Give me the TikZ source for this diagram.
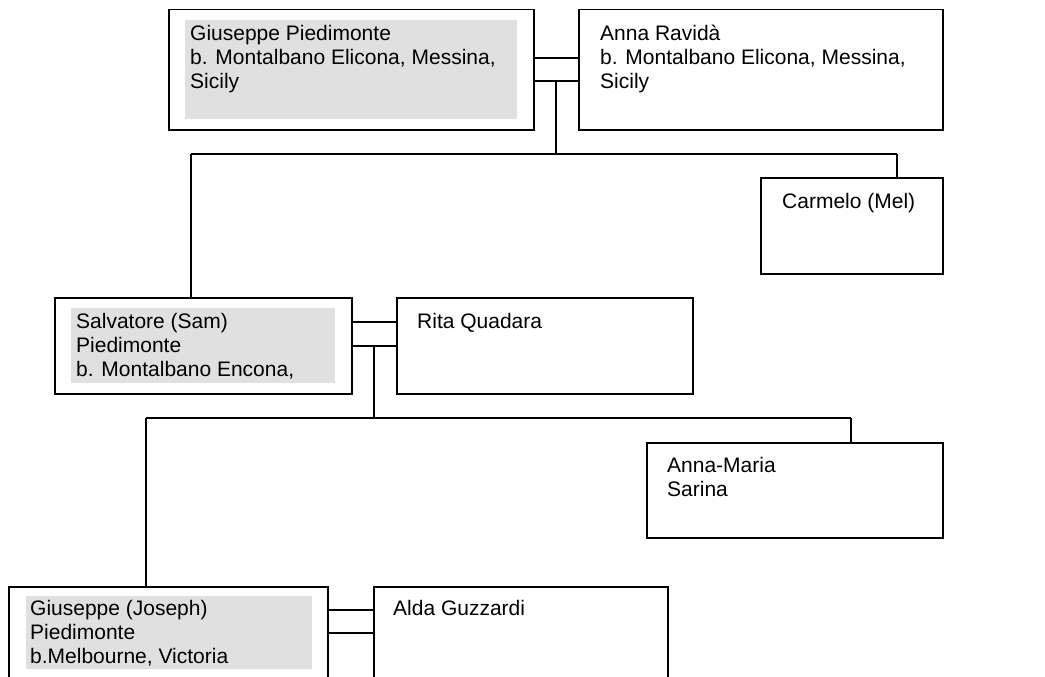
\documentclass[tikz,border=0pt]{standalone}
\usepackage{fontspec}
\setmainfont{Liberation Sans}
\definecolor{shade}{HTML}{E0E0E0}
\begin{document}
\begin{tikzpicture}[x=1pt,y=-1pt,
  person/.style={draw=black, line width=1.5pt, rectangle, inner sep=0pt, anchor=north west},
  shadebox/.style={fill=shade, draw=none},
  label/.style={anchor=north west, inner sep=0pt, align=left,
    font=\fontsize{21}{24.3}\selectfont},
  link/.style={draw=black, line width=1.5pt}]
\clip (0,0) rectangle (1045,677);
\fill[white] (0,0) rectangle (1045,677);

% first generation
\node[person, minimum width=365pt, minimum height=120pt] (g1) at (168,9) {};
\fill[shadebox] (185,20) rectangle (517,119);
\node[label] (g1t) at (190,22.85) {\strut Giuseppe Piedimonte\\b. Montalbano Elicona, Messina,\\Sicily};

\node[person, minimum width=364pt, minimum height=120pt] (anna) at (578,9) {};
\node[label] (annat) at (600,22.85) {\strut Anna Ravidà\\b. Montalbano Elicona, Messina,\\Sicily};

% second generation
\node[person, minimum width=182pt, minimum height=96pt] (carmelo) at (760,177) {};
\node[label] (carmelot) at (782,190.85) {\strut Carmelo (Mel)};

\node[person, minimum width=297pt, minimum height=96pt] (sam) at (54,297) {};
\fill[shadebox] (71,308) rectangle (335,383);
\node[label] (samt) at (76,310.85) {\strut Salvatore (Sam)\\Piedimonte\\b. Montalbano Encona,};

\node[person, minimum width=296pt, minimum height=96pt] (rita) at (396,297) {};
\node[label] (ritat) at (417,310.85) {\strut Rita Quadara};

% third generation
\node[person, minimum width=296pt, minimum height=95pt] (annamaria) at (646,442) {};
\node[label] (annamariat) at (667,454.85) {\strut Anna-Maria\\Sarina};

\node[person, minimum width=319pt, minimum height=120pt] (joseph) at (8,586) {};
\fill[shadebox] (26,596) rectangle (312,669);
\node[label] (josepht) at (30,597.85) {\strut Giuseppe (Joseph)\\Piedimonte\\b.Melbourne, Victoria};

\node[person, minimum width=294pt, minimum height=120pt] (alda) at (373,586) {};
\node[label] (aldat) at (393,597.85) {\strut Alda Guzzardi};

% marriage links
\draw[link] ([yshift=-49pt]g1.north east) -- ([yshift=-49pt]anna.north west);
\draw[link] ([yshift=-72pt]g1.north east) -- ([yshift=-72pt]anna.north west);
\draw[link] ([yshift=-25pt]sam.north east) -- ([yshift=-25pt]rita.north west);
\draw[link] ([yshift=-49pt]sam.north east) -- ([yshift=-49pt]rita.north west);
\draw[link] ([yshift=-24pt]joseph.north east) -- ([yshift=-24pt]alda.north west);
\draw[link] ([yshift=-47pt]joseph.north east) -- ([yshift=-47pt]alda.north west);

% descent lines
\coordinate (m1) at (556,81);
\coordinate (d1) at (556,154);
\coordinate (d1l) at (191,154);
\coordinate (d1r) at (897,154);
\draw[link] (m1) -- (d1);
\draw[link] (d1l) -- (d1r);
\draw[link] (d1l) -- (d1l |- sam.north);
\draw[link] (d1r) -- (d1r |- carmelo.north);

\coordinate (m2) at (374,346);
\coordinate (d2) at (374,418);
\coordinate (d2l) at (146,418);
\coordinate (d2r) at (851,418);
\draw[link] (m2) -- (d2);
\draw[link] (d2l) -- (d2r);
\draw[link] (d2l) -- (d2l |- joseph.north);
\draw[link] (d2r) -- (d2r |- annamaria.north);
\end{tikzpicture}
\end{document}
